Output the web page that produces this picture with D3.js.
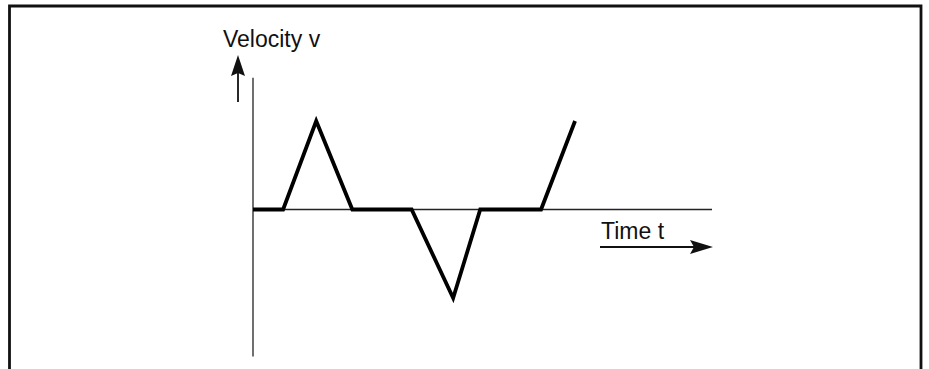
<!DOCTYPE html>
<html>
<head>
<meta charset="utf-8">
<script src="https://cdn.jsdelivr.net/npm/d3@7"></script>
<style>
  html, body { margin: 0; padding: 0; background: #fff; }
  text { font-family: "Liberation Sans", Arial, sans-serif; fill: #111; }
</style>
</head>
<body>
<div id="chart"></div>
<script>
// velocity vs time, piecewise linear
const times = [0, 1, 2.1, 3.3, 5.27, 6.65, 7.55, 9.57, 10.7];
const velocity = [0, 0, 1, 0, 0, -1, 0, 0, 1];
const axisLabels = ['Velocity v', 'Time t'];

const width = 929, height = 369;

const svg = d3.select('#chart').append('svg')
    .attr('width', width)
    .attr('height', height);

const x = d3.scaleLinear().domain([0, 15.25]).range([253, 712]);
const y = d3.scaleLinear().domain([-1, 1]).range([298, 121]);

// frame, open at the bottom
svg.append('path')
    .attr('d', `M9.5,${height} V6 H921 V${height}`)
    .attr('fill', 'none')
    .attr('stroke', '#111')
    .attr('stroke-width', 2.8);

// thin axes
svg.append('line')
    .attr('x1', x(0)).attr('x2', x(0))
    .attr('y1', y(1.49)).attr('y2', y(-1.66))
    .attr('stroke', '#222').attr('stroke-width', 1.3);

svg.append('line')
    .attr('x1', x(0)).attr('x2', x(15.25))
    .attr('y1', y(0)).attr('y2', y(0))
    .attr('stroke', '#222').attr('stroke-width', 1.3);

// velocity curve
const line = d3.line()
    .x((d, i) => x(times[i]))
    .y(d => y(d));

svg.append('path')
    .datum(velocity)
    .attr('d', line)
    .attr('fill', 'none')
    .attr('stroke', '#000')
    .attr('stroke-width', 3.8)
    .attr('stroke-linejoin', 'miter');

// label + arrow for v
svg.append('text')
    .attr('x', 223).attr('y', 47)
    .attr('font-size', 23)
    .text(axisLabels[0]);

svg.append('line')
    .attr('x1', 238).attr('x2', 238)
    .attr('y1', 102).attr('y2', 70)
    .attr('stroke', '#111').attr('stroke-width', 1.8);
svg.append('path')
    .attr('d', 'M238,55 L231,76 L238,73 L245,76 Z')
    .attr('fill', '#111');

// label + arrow for t
svg.append('text')
    .attr('x', 601).attr('y', 239)
    .attr('font-size', 23)
    .text(axisLabels[1]);

svg.append('line')
    .attr('x1', 600).attr('x2', 698)
    .attr('y1', 247).attr('y2', 247)
    .attr('stroke', '#111').attr('stroke-width', 1.8);
svg.append('path')
    .attr('d', 'M713,247 L690,240 L694,247 L690,254 Z')
    .attr('fill', '#111');
</script>
</body>
</html>
